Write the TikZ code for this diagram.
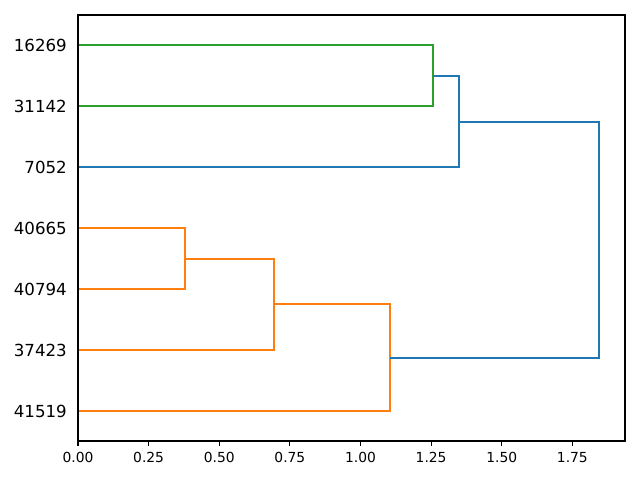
\documentclass[tikz,border=0pt]{standalone}
\usepackage{fontspec}
\setmainfont{DejaVu Sans}
\definecolor{mplblue}{HTML}{1F77B4}
\definecolor{mplorange}{HTML}{FF7F0E}
\definecolor{mplgreen}{HTML}{2CA02C}
\begin{document}
\begin{tikzpicture}[x=0.01in,y=-0.01in,
  link/.style={line width=1.5pt},
  spine/.style={line width=0.8pt,line cap=rect},
  xtick/.style={line width=0.8pt},
  xlab/.style={anchor=north,font=\fontsize{10}{12}\selectfont,inner sep=0pt},
  ylab/.style={anchor=east,font=\fontsize{12}{14}\selectfont,inner sep=0pt}]
\useasboundingbox (0,0) rectangle (640,480);
% leaves
\coordinate (l1) at (78,45);
\coordinate (l2) at (78,106);
\coordinate (l3) at (78,167);
\coordinate (l4) at (78,228);
\coordinate (l5) at (78,289);
\coordinate (l6) at (78,350);
\coordinate (l7) at (78,411);
% merges
\coordinate (g) at (433,76);
\coordinate (b1) at (459,122);
\coordinate (o1) at (185,259);
\coordinate (o2) at (274,304);
\coordinate (o3) at (390,358);
\coordinate (b2) at (599,358);
% links
\draw[link,mplgreen] (l1) -| (g) |- (l2);
\draw[link,mplblue] (g) -| (b1) |- (l3);
\draw[link,mplorange] (l4) -| (o1) |- (l5);
\draw[link,mplorange] (o1) -| (o2) |- (l6);
\draw[link,mplorange] (o2) -| (o3) |- (l7);
\draw[link,mplblue] (b1) -| (b2) -- (o3);
% axes
\draw[spine] (78,15) rectangle (625,441);
% y labels
\node[ylab] (y1) at (67,45) {16269};
\node[ylab] (y2) at (67,106) {31142};
\node[ylab] (y3) at (67,167) {7052};
\node[ylab] (y4) at (67,228) {40665};
\node[ylab] (y5) at (67,289) {40794};
\node[ylab] (y6) at (67,350) {37423};
\node[ylab] (y7) at (67,411) {41519};
% x ticks
\foreach \v/\t [count=\i] in {0/0.00,0.25/0.25,0.5/0.50,0.75/0.75,1/1.00,1.25/1.25,1.5/1.50,1.75/1.75}{
  \coordinate (t\i) at ({78+282.5*\v},441);
  \draw[xtick] (t\i) -- ++(0,4.9);
  \node[xlab] (x\i) at ({78+282.5*\v},452) {\t};
}
\end{tikzpicture}
\end{document}
